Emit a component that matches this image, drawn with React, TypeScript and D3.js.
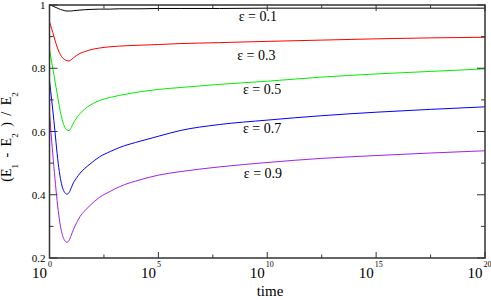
import React, { useRef, useEffect } from 'react';
import * as d3 from 'd3';

// log10(time) sample positions
const logTime = [0, 0.1, 0.2, 0.3, 0.4, 0.5, 0.6, 0.7, 0.8, 0.9, 1.0, 1.1, 1.25, 1.4, 1.6, 1.86, 2.3, 2.8, 3.2, 4.2, 5, 6, 7.8, 10, 12.5, 15, 17.5, 20];

const eps01 = [1.0, 0.998, 0.995, 0.992, 0.989, 0.986, 0.984, 0.982, 0.981, 0.981, 0.981, 0.982, 0.983, 0.984, 0.985, 0.986, 0.987, 0.987, 0.988, 0.988, 0.989, 0.989, 0.989, 0.99, 0.99, 0.99, 0.99, 0.99];
const eps03 = [0.946, 0.925, 0.901, 0.878, 0.858, 0.843, 0.833, 0.827, 0.824, 0.823, 0.827, 0.833, 0.841, 0.847, 0.852, 0.858, 0.864, 0.868, 0.87, 0.873, 0.875, 0.878, 0.881, 0.885, 0.889, 0.893, 0.896, 0.898];
const eps05 = [0.86, 0.82, 0.78, 0.74, 0.70, 0.662, 0.633, 0.614, 0.605, 0.603, 0.612, 0.627, 0.643, 0.656, 0.67, 0.683, 0.698, 0.708, 0.714, 0.726, 0.733, 0.739, 0.749, 0.759, 0.772, 0.782, 0.79, 0.798];
const eps07 = [0.76, 0.70, 0.635, 0.565, 0.50, 0.452, 0.422, 0.407, 0.402, 0.407, 0.422, 0.438, 0.454, 0.468, 0.482, 0.497, 0.52, 0.537, 0.549, 0.57, 0.585, 0.603, 0.622, 0.636, 0.65, 0.661, 0.67, 0.678];
const eps09 = [0.66, 0.57, 0.49, 0.415, 0.35, 0.302, 0.271, 0.255, 0.25, 0.256, 0.272, 0.29, 0.312, 0.331, 0.348, 0.366, 0.392, 0.411, 0.425, 0.448, 0.462, 0.473, 0.488, 0.502, 0.515, 0.524, 0.532, 0.539];

const seriesNames = ['ε = 0.1', 'ε = 0.3', 'ε = 0.5', 'ε = 0.7', 'ε = 0.9'];
const seriesValues = [eps01, eps03, eps05, eps07, eps09];
const seriesColors = ['#000000', '#ff0000', '#00ee00', '#0000ff', '#a020f0'];
// label anchors: [time exponent, value at baseline]
const labelPos = [[9.57, 0.949], [9.5, 0.826], [9.76, 0.719], [9.76, 0.595], [9.8, 0.453]];

const xTickExps = [0, 5, 10, 15, 20];
const yTicks = [0.2, 0.4, 0.6, 0.8, 1];

const App = () => {
  const ref = useRef<SVGSVGElement>(null);

  useEffect(() => {
    const width = 491;
    const height = 300;
    const left = 49.5, right = 485, top = 5, bottom = 258;

    const svg = d3.select(ref.current);
    svg.selectAll('*').remove();
    svg.attr('width', width).attr('height', height);
    svg.style('font-family', "'Liberation Serif', 'Times New Roman', serif");

    const x = d3.scaleLog().domain([1, 1e20]).range([left, right]);
    const y = d3.scaleLinear().domain([0.2, 1]).range([bottom, top]);

    const axisColor = '#333';

    const line = d3
      .line<number>()
      .x((d, i) => x(Math.pow(10, logTime[i])))
      .y((d) => y(d))
      .curve(d3.curveMonotoneX);

    seriesValues.forEach((vals, k) => {
      svg
        .append('path')
        .attr('d', line(vals))
        .attr('fill', 'none')
        .attr('stroke', seriesColors[k])
        .attr('stroke-width', 1);
    });

    // ticks on all four sides, pointing inward
    const g = svg.append('g').attr('stroke', axisColor).attr('stroke-width', 1);
    const xMinor = [2.5, 7.5, 12.5, 17.5];
    xTickExps.forEach((e) => {
      const px = x(Math.pow(10, e));
      g.append('line').attr('x1', px).attr('x2', px).attr('y1', bottom).attr('y2', bottom - 6);
      g.append('line').attr('x1', px).attr('x2', px).attr('y1', top).attr('y2', top + 6);
    });
    xMinor.forEach((e) => {
      const px = x(Math.pow(10, e));
      g.append('line').attr('x1', px).attr('x2', px).attr('y1', bottom).attr('y2', bottom - 3.5);
      g.append('line').attr('x1', px).attr('x2', px).attr('y1', top).attr('y2', top + 3.5);
    });
    d3.range(0.2, 1.001, 0.1).forEach((v) => {
      const major = Math.round(v * 10) % 2 === 0;
      const len = major ? 8 : 4;
      const py = y(v);
      g.append('line').attr('x1', left).attr('x2', left + len).attr('y1', py).attr('y2', py);
      g.append('line').attr('x1', right).attr('x2', right - len).attr('y1', py).attr('y2', py);
    });

    svg
      .append('rect')
      .attr('x', left)
      .attr('y', top)
      .attr('width', right - left)
      .attr('height', bottom - top)
      .attr('fill', 'none')
      .attr('stroke', axisColor)
      .attr('stroke-width', 1.5);

    // y tick labels
    yTicks.forEach((v) => {
      svg
        .append('text')
        .attr('x', left - 4)
        .attr('y', y(v) + 4)
        .attr('text-anchor', 'end')
        .style('font-size', '11px')
        .text(v === 1 ? '1' : v.toFixed(1));
    });

    // x tick labels: 10 with exponent
    xTickExps.forEach((e) => {
      const px = x(Math.pow(10, e));
      svg
        .append('text')
        .attr('x', px - 2.5)
        .attr('y', 278)
        .attr('text-anchor', 'end')
        .style('font-size', '15px')
        .text('10');
      svg
        .append('text')
        .attr('x', px - 1.5)
        .attr('y', 267)
        .style('font-size', '8px')
        .text(String(e));
    });

    svg
      .append('text')
      .attr('x', 270)
      .attr('y', 296)
      .attr('text-anchor', 'middle')
      .style('font-size', '15px')
      .text('time');

    // y axis title with subscripts
    const yl = svg
      .append('text')
      .attr('transform', 'translate(10.5,137) rotate(-90)')
      .attr('text-anchor', 'middle')
      .style('font-size', '14px')
      .style('word-spacing', '3px')
      .style('white-space', 'pre');
    yl.append('tspan').text('(E');
    yl.append('tspan').style('font-size', '9px').attr('dy', 7).text('1');
    yl.append('tspan').attr('dy', -7).text(' - E');
    yl.append('tspan').style('font-size', '9px').attr('dy', 7).text('2');
    yl.append('tspan').attr('dy', -7).text(' ) / E');
    yl.append('tspan').style('font-size', '9px').attr('dy', 7).text('2');

    // series labels
    seriesNames.forEach((name, k) => {
      svg
        .append('text')
        .attr('x', x(Math.pow(10, labelPos[k][0])))
        .attr('y', y(labelPos[k][1]))
        .attr('text-anchor', 'middle')
        .style('font-size', '14px')
        .text(name);
    });
  }, []);

  return <svg ref={ref} style={{ position: 'absolute', left: 0, top: 0 }}></svg>;
};

export default App;
